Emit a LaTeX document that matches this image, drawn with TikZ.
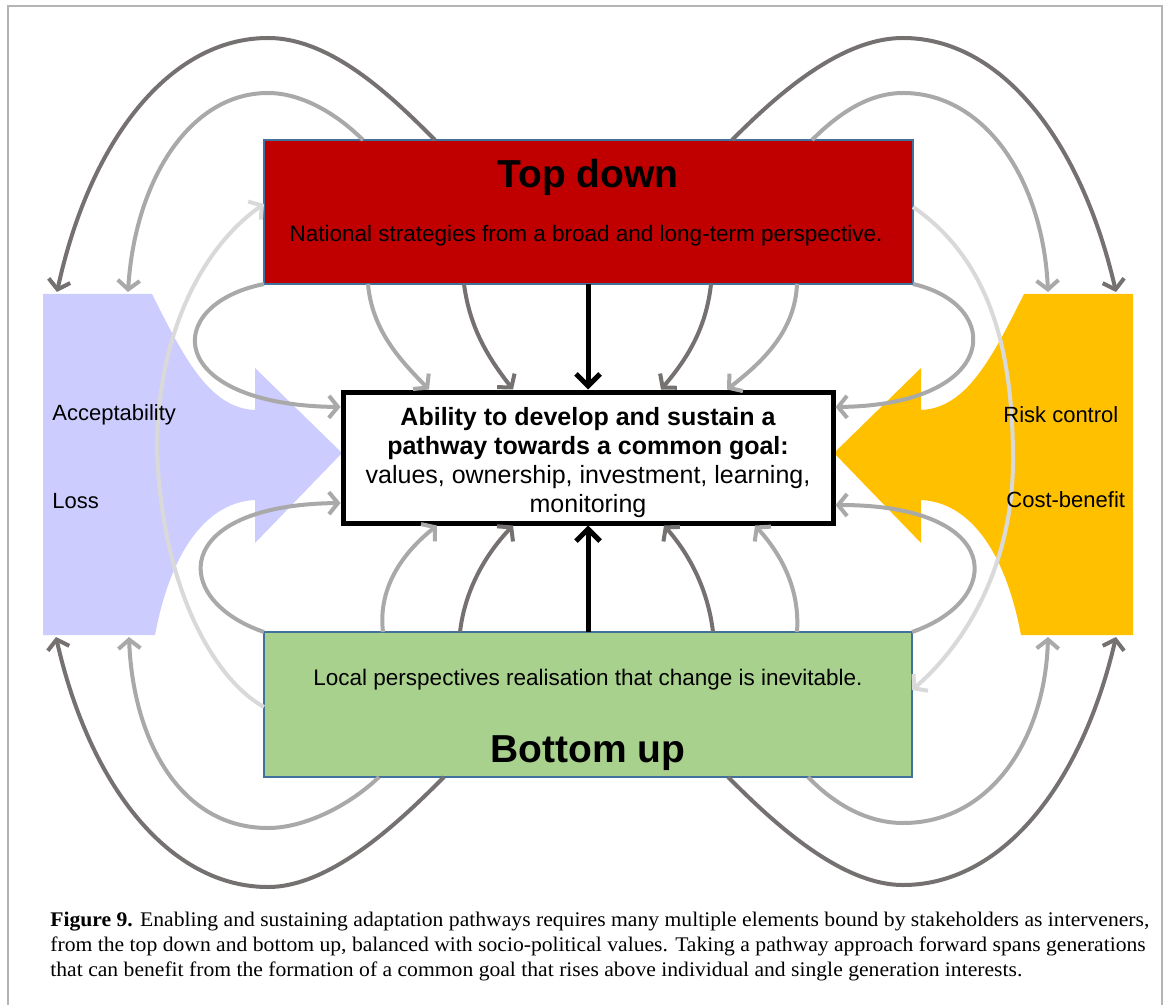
\documentclass[tikz,border=0pt]{standalone}
\usepackage{fontspec}
\setmainfont{Liberation Serif}
\setsansfont{Liberation Sans}
\newfontfamily\capfont[FakeStretch=1.04]{Liberation Serif}
\usetikzlibrary{arrows.meta}
\definecolor{tdred}{HTML}{C00000}
\definecolor{bugreen}{HTML}{A9D18E}
\definecolor{lav}{HTML}{CCCCFF}
\definecolor{gold}{HTML}{FFC000}
\definecolor{dgray}{HTML}{767171}
\definecolor{mgray}{HTML}{A9A9A9}
\definecolor{lgray}{HTML}{D9D9D9}
\definecolor{boxline}{HTML}{41719C}
\definecolor{framegray}{HTML}{B4B4B4}
\begin{document}
\begin{tikzpicture}[x=0.5pt,y=-0.5pt,
  conn/.style={line width=2pt, -{Straight Barb[length=4.5pt,width=11pt]}},
  darkc/.style={conn, draw=dgray},
  midc/.style={conn, draw=mgray},
  lightc/.style={conn, draw=lgray},
  mainc/.style={line width=2.5pt, draw=black, -{Straight Barb[length=6pt,width=12pt]}},
  levelbox/.style={draw=boxline, line width=0.6pt, inner sep=0pt, outer sep=0pt, anchor=north west},
  ttl/.style={font=\sffamily\bfseries\fontsize{19.5}{22}\selectfont, anchor=base, inner sep=0pt},
  subtxt/.style={font=\sffamily\fontsize{11.25}{13}\selectfont, anchor=base, inner sep=0pt},
  goaltxt/.style={font=\sffamily\fontsize{12.5}{14.5}\selectfont, anchor=base, inner sep=0pt},
  sidetxt/.style={font=\sffamily\fontsize{11}{13}\selectfont, anchor=base west, inner sep=0pt},
  captxt/.style={font=\capfont\fontsize{10.4}{12.5}\selectfont, anchor=base west, inner sep=0pt},
  framec/.style={draw=framegray, line width=0.8pt}
]
\fill[white] (0,0) rectangle (1171,1005);
\useasboundingbox (0,0) rectangle (1171,1005);
\draw[framec] (8,1010) -- (8,6) -- (1162,6) -- (1162,1010);

% side shapes
\fill[lav] (43,294) -- (152,294) .. controls (185,360) and (210,408) .. (255,410) -- (255,368) -- (342,453) -- (255,543) -- (255,500) .. controls (210,502) and (172,545) .. (155,635) -- (43,635) -- cycle;
\fill[gold] (1133,294) -- (1024,294) .. controls (991,360) and (966,408) .. (921,410) -- (921,368) -- (834,453) -- (921,543) -- (921,500) .. controls (966,502) and (1004,545) .. (1021,635) -- (1133,635) -- cycle;

\coordinate (pTopA) at (57,292);
\coordinate (pTopB) at (128,292);
\coordinate (pBotA) at (56,637);
\coordinate (pBotB) at (129,637);
\coordinate (oTopA) at (1116,292);
\coordinate (oTopB) at (1048,292);
\coordinate (oBotA) at (1116,637);
\coordinate (oBotB) at (1048,637);

% boxes
\node[levelbox, fill=tdred, minimum width=324.5pt, minimum height=72pt] (td) at (264,140) {};
\node[levelbox, fill=bugreen, minimum width=324pt, minimum height=72.5pt] (bu) at (264,632) {};
\node[draw=black, fill=white, line width=2.5pt, inner sep=0pt, minimum width=245pt, minimum height=65.5pt, anchor=north west] (goal) at (340.5,389.5) {};

% top-left arrows
\draw[darkc] (td.north -| 435,0) .. controls (395,100) and (333,38) .. (268,38) .. controls (170,38) and (90,140) .. (pTopA);
\draw[midc] (td.north -| 363,0) .. controls (335,112) and (300,93) .. (268,93) .. controls (190,93) and (135,180) .. (pTopB);
\draw[lightc] (bu.west |- 0,707) .. controls (215,680) and (162,590) .. (157,450) .. controls (157,330) and (205,245) .. (td.west |- 0,204);
\draw[midc] (td.south west) .. controls (160,305) and (165,405) .. (goal.west |- 0,407);
\draw[midc] (td.south -| 368,0) .. controls (372,330) and (400,360) .. (goal.north -| 429,0);
\draw[darkc] (td.south -| 464,0) .. controls (470,330) and (490,360) .. (goal.north -| 513,0);
\draw[mainc] (td.south -| goal.north) -- (goal.north);

% top-right arrows
\draw[darkc] (td.south -| 711,0) .. controls (706,330) and (686,360) .. (goal.north -| 661,0);
\draw[midc] (td.south -| 797,0) .. controls (795,330) and (765,360) .. (goal.north -| 727,0);
\draw[midc] (td.south east) .. controls (1005,305) and (1000,405) .. (goal.east |- 0,407);
\draw[lightc] (td.east |- 0,207) .. controls (990,260) and (1013,350) .. (1013,460) .. controls (1013,560) and (970,640) .. (bu.east |- 0,690);
\draw[midc] (td.north -| 812,0) .. controls (840,112) and (870,93) .. (903,93) .. controls (985,93) and (1043,180) .. (oTopB);
\draw[darkc] (td.north -| 732,0) .. controls (772,100) and (838,38) .. (903,38) .. controls (1001,38) and (1081,140) .. (oTopA);

% bottom-left arrows
\draw[midc] (bu.north west) .. controls (170,600) and (170,505) .. (goal.west |- 0,503);
\draw[midc] (bu.north -| 383,0) .. controls (378,590) and (400,555) .. (goal.south -| 437,0);
\draw[darkc] (bu.north -| 460,0) .. controls (465,590) and (485,555) .. (goal.south -| 513,0);
\draw[mainc] (bu.north -| goal.south) -- (goal.south);
\draw[darkc] (bu.south -| 444,0) .. controls (404,817) and (333,887) .. (268,887) .. controls (170,887) and (90,787) .. (pBotA);
\draw[midc] (bu.south -| 379,0) .. controls (350,805) and (305,828) .. (268,828) .. controls (180,828) and (133,740) .. (pBotB);

% bottom-right arrows
\draw[darkc] (bu.north -| 713,0) .. controls (708,590) and (690,555) .. (goal.south -| 664,0);
\draw[midc] (bu.north -| 797,0) .. controls (800,590) and (782,555) .. (goal.south -| 755,0);
\draw[midc] (bu.north east) .. controls (1005,600) and (1005,505) .. (goal.east |- 0,505);
\draw[darkc] (bu.south -| 728,0) .. controls (768,817) and (838,885) .. (903,885) .. controls (1001,885) and (1081,787) .. (oBotA);
\draw[midc] (bu.south -| 808,0) .. controls (835,805) and (868,823) .. (903,823) .. controls (990,823) and (1045,740) .. (oBotB);

% texts
\node[ttl] (tdtitle) at (588,188) {Top down};
\node[subtxt] (tdsub) at (586,242) {National strategies from a broad and long-term perspective.};
\node[subtxt] (busub) at (588,685) {Local perspectives realisation that change is inevitable.};
\node[ttl] (butitle) at (588,762) {Bottom up};
\node[goaltxt, font=\sffamily\bfseries\fontsize{12.5}{14.5}\selectfont] (g1) at (588,425) {Ability to develop and sustain a};
\node[goaltxt, font=\sffamily\bfseries\fontsize{12.5}{14.5}\selectfont] (g2) at (588,454) {pathway towards a common goal:};
\node[goaltxt] (g3) at (588,483) {values, ownership, investment, learning,};
\node[goaltxt] (g4) at (588,512) {monitoring};
\node[sidetxt] (acc) at (52,420) {Acceptability};
\node[sidetxt] (loss) at (52,508) {Loss};
\node[sidetxt] (risk) at (1003,422) {Risk control};
\node[sidetxt] (cost) at (1006,507) {Cost-benefit};

% caption
\node[captxt] (cap1) at (50,926) {\textbf{Figure 9.} Enabling and sustaining adaptation pathways requires many multiple elements bound by stakeholders as interveners,};
\node[captxt] (cap2) at (50,951) {from the top down and bottom up, balanced with socio-political values. Taking a pathway approach forward spans generations};
\node[captxt] (cap3) at (50,976) {that can benefit from the formation of a common goal that rises above individual and single generation interests.};
\end{tikzpicture}
\end{document}
